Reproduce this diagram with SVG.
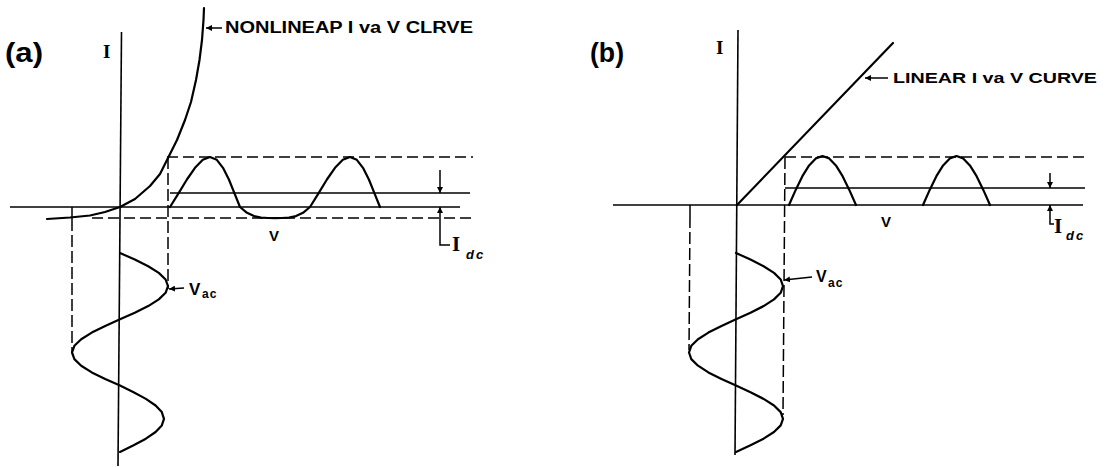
<svg xmlns="http://www.w3.org/2000/svg" width="1116" height="467" viewBox="0 0 1116 467">
<style>
.ax{fill:none;stroke:#000;stroke-width:1.6}
.cv{fill:none;stroke:#000;stroke-width:2.2;stroke-linejoin:round;stroke-linecap:round}
.th{fill:none;stroke:#000;stroke-width:1.5}
.dh{fill:none;stroke:#000;stroke-width:1.5;stroke-dasharray:11 5}
.dv{fill:none;stroke:#000;stroke-width:1.5;stroke-dasharray:12 4}
.pl{font-family:"Liberation Sans",Arial,sans-serif;font-weight:bold;fill:#000}
.sf{font-family:"Liberation Serif","Times New Roman",serif;font-weight:bold;fill:#000}
.lb{font-family:"Liberation Sans",Arial,sans-serif;font-weight:bold;fill:#000}
</style>
<defs>
<marker id="ah" viewBox="0 0 10 10" refX="10" refY="5" markerWidth="6" markerHeight="6" markerUnits="userSpaceOnUse" orient="auto">
<path d="M0,0 L10,5 L0,10 z" fill="#000"/>
</marker>
</defs>
<rect width="1116" height="467" fill="#fff"/>

<g id="panel-a">
<text class="pl" x="5" y="62" font-size="27" textLength="38" lengthAdjust="spacingAndGlyphs">(a)</text>
<g id="a-axes">
<line class="ax" x1="121.5" y1="32" x2="118" y2="466"/>
<line class="ax" x1="10" y1="207" x2="460" y2="207"/>
<text class="sf" x="103" y="58" font-size="19">I</text>
<text class="lb" x="269" y="241" font-size="15">V</text>
</g>
<g id="a-iv-curve">
<polyline class="cv" points="47,219 70,217.5 90,215.5 105,212 120,207 135,199 150,186 160,174 167,160 177,140 185,120 191,102 196,80 199.5,60 202,40 203.5,20 204,8"/>
</g>
<g id="a-guides">
<line class="dh" x1="167" y1="157" x2="473" y2="157"/>
<line class="dh" x1="92" y1="218" x2="473" y2="218"/>
<line class="th" x1="170" y1="193" x2="470" y2="193"/>
<line class="th" x1="72" y1="207" x2="72" y2="219"/>
<line class="dv" x1="72" y1="219" x2="72" y2="352"/>
<line class="dv" x1="168" y1="157" x2="168" y2="289"/>
</g>
<g id="a-output-wave">
<polyline class="cv" points="170,207 178.5,193.3 186.9,179.5 195,167.8 202.8,159.8 210,157 216.8,159.8 223,167.8 228.9,179.5 234.5,193.3 240,207 247,212.8 254,216.1 261,217.6 268,218 275,218.2 282,218 289,217.6 296,216.1 303,212.8 310,207 318.5,193.3 326.9,179.5 335,167.8 342.8,159.8 350,157 356.8,159.8 363,167.8 368.9,179.5 374.5,193.3 380,207"/>
</g>
<g id="a-input-wave">
<polyline class="cv" points="120,253 134.8,259.6 148.2,266.3 158.8,272.9 165.6,279.5 168,286.2 165.6,292.8 158.8,299.4 148.2,306.1 134.8,312.7 120,319.3 105.2,325.9 91.8,332.6 81.2,339.2 74.4,345.8 72,352.5 74.4,359.1 81.2,365.7 91.8,372.4 105.2,379 120,385.6 133.6,392.2 145.9,398.9 155.6,405.5 161.8,412.1 164,418.8 161.8,425.4 155.6,432 145.9,438.7 133.6,445.3 120,451.9"/>
</g>
<g id="a-labels">
<text class="lb" x="225" y="33" font-size="16" textLength="248" lengthAdjust="spacingAndGlyphs">NONLINEAP I va V CLRVE</text>
<text class="lb" x="189" y="295" font-size="17">V</text>
<text class="lb" x="202" y="298" font-size="12" letter-spacing="1">ac</text>
<text class="sf" x="452" y="251" font-size="21">I</text>
<text class="lb" x="466" y="259" font-size="13" font-style="italic" letter-spacing="2">dc</text>
</g>
</g>

<g id="panel-b">
<text class="pl" x="590" y="62" font-size="27" textLength="34" lengthAdjust="spacingAndGlyphs">(b)</text>
<g id="b-axes">
<line class="ax" x1="738" y1="30" x2="735" y2="455"/>
<line class="ax" x1="613" y1="205" x2="1083" y2="205"/>
<text class="sf" x="716" y="54" font-size="19">I</text>
<text class="lb" x="881" y="227" font-size="15">V</text>
</g>
<g id="b-iv-line">
<line class="cv" x1="737" y1="205" x2="893" y2="43"/>
</g>
<g id="b-guides">
<line class="dh" x1="785" y1="157" x2="1085" y2="157"/>
<line class="th" x1="785" y1="188" x2="1085" y2="188"/>
<line class="th" x1="690" y1="205" x2="690" y2="216"/>
<line class="dv" x1="690" y1="216" x2="689" y2="350"/>
<line class="dv" x1="785" y1="157" x2="783" y2="415"/>
</g>
<g id="b-output-wave">
<polyline class="cv" points="789,205 795.7,189.9 802.4,176.2 809.1,165.4 815.8,158.4 822.5,156 829.2,158.4 835.9,165.4 842.6,176.2 849.3,189.9 856,205"/>
<polyline class="cv" points="923,205 929.7,189.9 936.4,176.2 943.1,165.4 949.8,158.4 956.5,156 963.2,158.4 969.9,165.4 976.6,176.2 983.3,189.9 990,205"/>
</g>
<g id="b-input-wave">
<polyline class="cv" points="736,253 750.5,259.6 763.6,266.3 774,272.9 780.7,279.5 783,286.2 780.7,292.8 774,299.4 763.6,306.1 750.5,312.7 736,319.3 721.5,325.9 708.4,332.6 698,339.2 691.3,345.8 689,352.5 691.3,359.1 698,365.7 708.4,372.4 721.5,379 736,385.6 750.5,392.2 763.6,398.9 774,405.5 780.7,412.1 783,418.8 780.7,425.4 774,432 763.6,438.7 750.5,445.3 736,451.9"/>
</g>
<g id="b-labels">
<text class="lb" x="893" y="83" font-size="15" textLength="204" lengthAdjust="spacingAndGlyphs">LINEAR I va V CURVE</text>
<text class="lb" x="816" y="282" font-size="16">V</text>
<text class="lb" x="828" y="287" font-size="12" letter-spacing="1">ac</text>
<text class="sf" x="1054" y="233" font-size="21">I</text>
<text class="lb" x="1066" y="240" font-size="13" font-style="italic" letter-spacing="2">dc</text>
</g>
</g>

<g id="connectors">
<line class="th" x1="222" y1="28" x2="206" y2="28" marker-end="url(#ah)"/>
<line class="th" x1="184" y1="288" x2="169" y2="289" marker-end="url(#ah)"/>
<line class="th" x1="440" y1="170" x2="440" y2="193" marker-end="url(#ah)"/>
<polyline class="th" points="450,245 440,245 440,207" marker-end="url(#ah)"/>
<line class="th" x1="888" y1="78" x2="865" y2="78" marker-end="url(#ah)"/>
<line class="th" x1="812" y1="277" x2="784" y2="280" marker-end="url(#ah)"/>
<line class="th" x1="1050" y1="173" x2="1050" y2="188" marker-end="url(#ah)"/>
<polyline class="th" points="1054,224 1050,224 1050,205" marker-end="url(#ah)"/>
</g>
</svg>
